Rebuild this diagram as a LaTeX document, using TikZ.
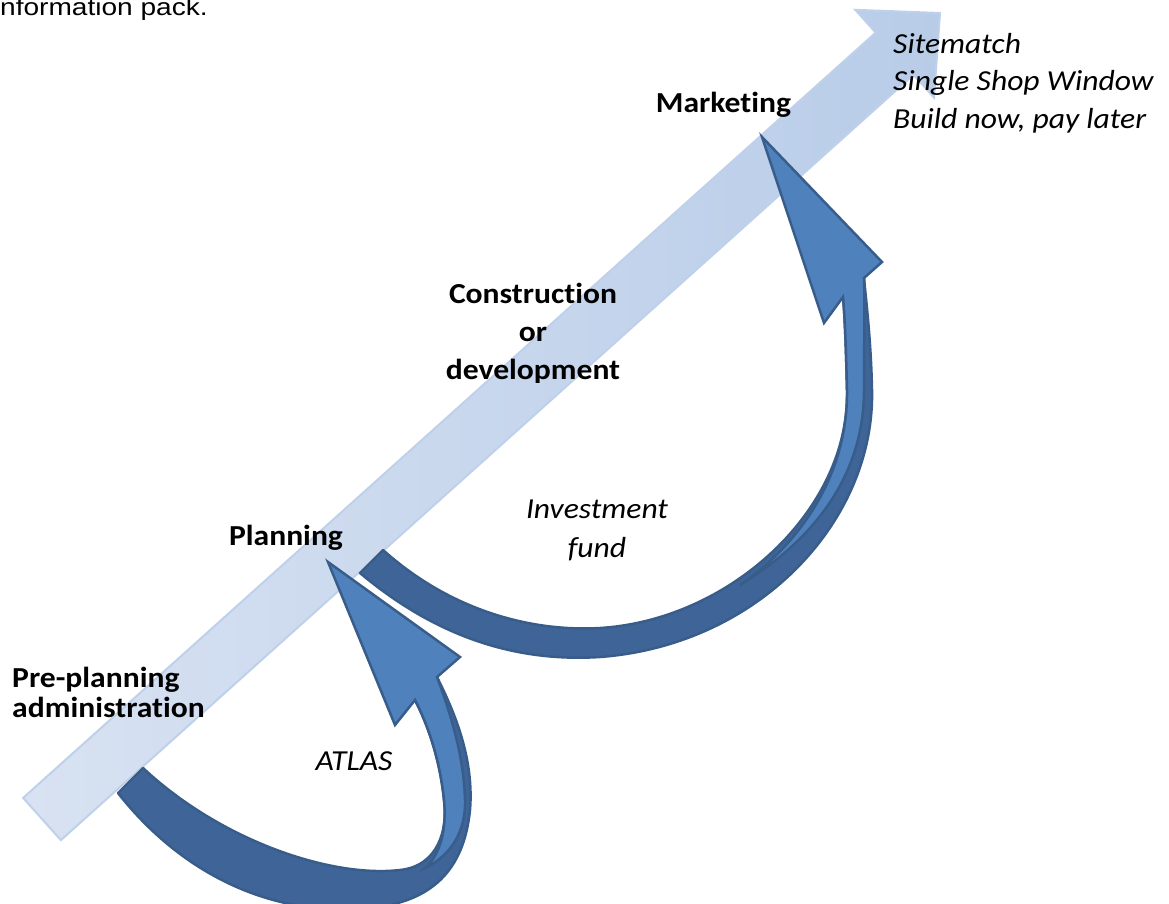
\documentclass[tikz,border=0pt]{standalone}
\usepackage{fontspec}
\setmainfont{Carlito}[Ligatures=NoCommon]
\newfontfamily\arialfont{Liberation Sans}

\definecolor{stageLight}{HTML}{D8E2F2}
\definecolor{stageDark}{HTML}{B8CCE8}
\definecolor{stageEdge}{HTML}{BFD1EA}
\definecolor{loopFront}{HTML}{4F81BD}
\definecolor{loopBack}{HTML}{3F6598}
\definecolor{loopLine}{HTML}{385D8A}

\tikzset{
  stage/.style={font=\bfseries\fontsize{29}{38}\selectfont, xscale=1.09, inner sep=0pt},
  scheme/.style={font=\itshape\fontsize{29}{38}\selectfont, xscale=1.09, inner sep=0pt},
  note/.style={font=\arialfont\fontsize{24}{28}\selectfont, xscale=1.17, inner sep=0pt},
  loopback/.style={fill=loopBack, draw=loopLine, line width=2.5pt, line join=round},
  loopfront/.style={fill=loopFront, draw=loopLine, line width=2.5pt, line join=miter},
}

\begin{document}
\begin{tikzpicture}[x=1pt,y=-1pt]
\useasboundingbox (0,0) rectangle (1169,903);

% the stages arrow
\coordinate (tailA) at (23.1,797.9);
\coordinate (tailB) at (60.9,840.1);
\coordinate (notchA) at (875.7,32.6);
\coordinate (barbA) at (855.2,9.8);
\coordinate (tipS) at (940,13);
\coordinate (barbB) at (934,97.6);
\coordinate (notchB) at (913.5,74.8);
\shade[left color=stageLight, right color=stageDark, draw=stageEdge, line width=2pt]
  (tailA) -- (notchA) -- (barbA) -- (tipS) -- (barbB) -- (notchB) -- (tailB) -- cycle;

% ATLAS loop
\coordinate (a-s1) at (118,793);
\coordinate (a-s2) at (143,768);
\coordinate (a-nr) at (437,677);
\coordinate (a-br) at (460,657);
\coordinate (a-tip) at (328,562);
\coordinate (a-bl) at (395,725);
\coordinate (a-nl) at (415,700);
\coordinate (a-tw) at (425,868);
\draw[loopback] (a-s1) .. controls (180,872) and (270,918) .. (370,908)
  .. controls (432,902) and (464,870) .. (470,810)
  .. controls (474,760) and (456,715) .. (a-nr) -- (a-nl)
  .. controls (428,725) and (440,760) .. (444,800)
  .. controls (448,830) and (438,866) .. (400,870)
  .. controls (330,878) and (220,840) .. (a-s2) -- cycle;
\draw[loopfront] (a-tw) .. controls (452,855) and (466,830) .. (465,800)
  .. controls (464,760) and (453,720) .. (a-nr) -- (a-br) -- (a-tip) -- (a-bl) -- (a-nl)
  .. controls (428,725) and (440,760) .. (444,800)
  .. controls (447,830) and (440,855) .. (a-tw) -- cycle;

% investment fund loop
\coordinate (b-s1) at (360,573);
\coordinate (b-s2) at (383,550);
\coordinate (b-nr) at (864,278);
\coordinate (b-br) at (882,262);
\coordinate (b-tip) at (762,137);
\coordinate (b-bl) at (824,323);
\coordinate (b-nl) at (843,297);
\coordinate (b-tw) at (740,585);
\draw[loopback] (b-s1) .. controls (440,640) and (520,662) .. (600,657)
  .. controls (760,645) and (875,520) .. (872,390)
  .. controls (871,340) and (866,300) .. (b-nr) -- (b-nl)
  .. controls (845,320) and (846,350) .. (847,390)
  .. controls (850,510) and (730,620) .. (600,628)
  .. controls (530,632) and (450,610) .. (b-s2) -- cycle;
\draw[loopfront] (b-tw) .. controls (830,530) and (864,460) .. (864,390)
  .. controls (864,340) and (865,300) .. (b-nr) -- (b-br) -- (b-tip) -- (b-bl) -- (b-nl)
  .. controls (845,320) and (846,350) .. (847,390)
  .. controls (848,470) and (805,540) .. (b-tw) -- cycle;

% labels
\node[note, anchor=base east] (info) at (208,15) {information pack.};
\node[stage, anchor=base] (marketing) at (723.5,112) {Marketing};
\node[stage, anchor=base] (planning) at (286,545) {Planning};
\node[stage, font=\bfseries\fontsize{29}{30}\selectfont, align=left, anchor=base west] (preplan) at (12,717) {Pre-planning\\administration};
\begin{scope}
  \clip (380,250) rectangle (700,382);
  \node[stage, align=center, anchor=base] (build) at (533,379) {Construction\\or\\development};
\end{scope}
\begin{scope}
  \clip (880,20) rectangle (1169,132);
  \node[scheme, font=\itshape\fontsize{29}{37.5}\selectfont, align=left, anchor=base west] (offers) at (893,128) {Sitematch\\Single Shop Window\\Build now, pay later};
\end{scope}
\node[scheme, font=\itshape\fontsize{29}{39}\selectfont, align=center, anchor=base] (fund) at (597,557) {Investment\\fund};
\node[scheme, anchor=base] (atlas) at (354,770) {ATLAS};
\end{tikzpicture}
\end{document}
